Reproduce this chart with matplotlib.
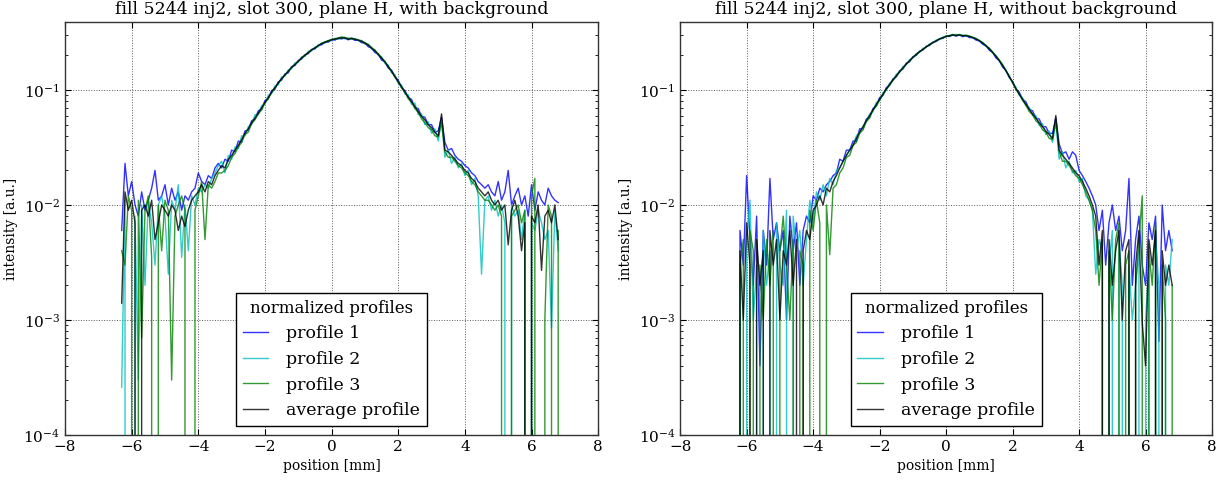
#!/usr/bin/env python3
"""
Normalized transverse profiles, fill 5244 inj2, slot 300, plane H.
Left: raw profiles (with background), right: background subtracted.
"""

import numpy as np
import matplotlib
matplotlib.use("Agg")
import matplotlib.pyplot as plt

# ---------- Data ----------
# position grid [mm], 0.1 mm steps from -6.3 to 6.8 (132 samples)
position = np.linspace(-6.3, 6.8, 132)

# intensities in units of 1e-3 [a.u.]; values <= 0 fall below the log axis
# ---- with background ----
prof1_bg = [6, 23, 12, 16, 10, 8, 13, 9, 11, 14,
            20, 11, 12, 15, 10, 14, 11, 13, 9, 12,
            11, 13, 14, 19, 16, 15, 18, 17, 21, 23,
            21, 25, 24, 30, 29, 36, 35, 44, 45, 54,
            56, 66, 68, 81, 84, 99, 102, 118, 122, 138,
            141, 160, 163, 181, 186, 203, 207, 225, 228, 245,
            247, 261, 261, 275, 272, 283, 278, 286, 273, 283,
            270, 272, 258, 256, 238, 231, 212, 205, 182, 176,
            155, 149, 131, 122, 105, 99, 86, 83, 70, 69,
            59, 58, 50, 50, 43, 44, 58, 35, 30, 31,
            27, 25, 24, 22, 21, 19, 18, 16, 15, 14,
            15, 13, 12, 16, 11, 13, 20, 10, 12, 14,
            10, 12, 8, 15, 9, 13, 11, 10, 14, 12,
            11, 10.5]
prof2_bg = [0.26, 11, 0, 0, 8, 0.3, 10, 2, 11, 7,
            3, 10, 12, 8, 2.5, 11, 9, 15, 3.5, 10,
            4, 12, 10, 14, 13, 15, 14, 17, 19, 22,
            24, 19, 27, 25, 32, 31, 40, 40, 48, 50,
            61, 61, 73, 76, 90, 93, 109, 111, 130, 132,
            150, 153, 172, 174, 195, 196, 217, 218, 237, 238,
            257, 256, 271, 268, 282, 276, 288, 278, 283, 276,
            281, 268, 270, 251, 251, 227, 225, 200, 195, 171,
            165, 141, 136, 114, 111, 92, 91, 75, 77, 61,
            62, 50, 53, 42, 46, 36, 55, 26, 30, 23,
            26, 21, 23, 18, 20, 15, 17, 12, 2.5, 11,
            12, 9, 11, 8, 10, 7, 0, 10, 8, 9,
            5, 9, 0, 7, 6, 9, 7, 5, 6, 0.85,
            9, 4]
prof3_bg = [4, 3, 12, 9, 0, 11, 0.7, 9, 12, 3.5,
            0, 10, 4, 11, 9, 0.3, 8, 10, 12, 9,
            0, 0, 9, 12, 16, 5, 15, 14, 16, 19,
            19, 20, 22, 26, 28, 32, 35, 41, 43, 51,
            55, 62, 67, 77, 84, 95, 103, 115, 125, 135,
            145, 157, 167, 178, 190, 202, 212, 225, 232, 245,
            254, 263, 268, 276, 278, 285, 289, 287, 280, 283,
            278, 274, 267, 259, 248, 235, 221, 207, 191, 178,
            160, 145, 129, 118, 104, 96, 84, 78, 69, 64,
            56, 52, 47, 45, 40, 39, 52, 29, 26, 26,
            24, 22, 21, 19, 18, 16, 15, 13, 12, 11,
            11, 10, 9, 10, 8, 0, 0, 8, 9, 10,
            7, 9, 0, 12, 17, 0, 0, 1, 10, 8,
            0, 6]
avg_bg = [1.4, 13, 9, 11, 7, 0, 9, 10, 8, 11,
          5, 7, 10, 9, 8, 10, 9, 6, 8, 6.5,
          9, 11, 12, 13, 15, 13, 16, 15, 18, 20,
          22, 21, 25, 27, 30, 33, 37, 42, 46, 52,
          57, 63, 70, 78, 86, 96, 105, 115, 126, 135,
          146, 157, 167, 178, 190, 200, 212, 223, 232, 243,
          253, 260, 267, 273, 277, 281, 284, 283, 277, 280,
          276, 271, 265, 255, 246, 231, 219, 204, 189, 175,
          160, 146, 131, 118, 107, 96, 87, 79, 72, 65,
          59, 55, 50, 47, 43, 40, 62, 30, 29, 27,
          25, 23, 22, 20, 19, 17, 16, 14, 13, 12,
          13, 11, 10, 11, 9, 10, 4.5, 9, 11, 8,
          4, 7, 0, 8, 7, 10, 2.7, 8, 9, 7,
          10, 5]

# ---- without background ----
prof1_nobg = [-2, 6, 3, 18, 5, 2, 8, 0.4, 6, 3,
              17, 5, 7, 4, 6, 1, 8, 4, 7, 2,
              6, 8, 7, 12, 11, 14, 13, 15, 16, 18,
              19, 25, 24, 30, 30, 36, 36, 46, 46, 56,
              58, 69, 73, 86, 90, 105, 110, 125, 130, 147,
              152, 171, 176, 195, 200, 218, 222, 240, 244, 261,
              264, 280, 281, 295, 292, 303, 294, 302, 291, 297,
              286, 285, 272, 267, 250, 242, 222, 212, 190, 180,
              158, 148, 128, 119, 102, 96, 83, 79, 68, 66,
              57, 56, 48, 48, 42, 42, 57, 34, 28, 29,
              25, 29, 27, 20, 18, 16, 14, 12, 10, 6,
              9, 3, 7, 10, 6, 8, 4, 6, 17, 2,
              5, 8, 3, 2, 7, 5, 8, 0.65, 10, 4,
              6, 4]
prof2_nobg = [-1, 2, 0, 5, 11, 1, 3, 0, 6, 2,
              4, 0, 7, 3, 2, 9, 0, 8, 4, 6,
              2, 5, 11, 7, 13, 11, 15, 12, 17, 15,
              20, 21, 24, 27, 30, 33, 40, 43, 48, 54,
              62, 65, 78, 81, 95, 100, 115, 120, 137, 142,
              160, 166, 184, 190, 208, 213, 230, 235, 252, 256,
              272, 275, 289, 290, 300, 298, 305, 299, 301, 295,
              296, 284, 282, 266, 260, 240, 232, 210, 200, 178,
              167, 145, 134, 114, 106, 90, 86, 73, 71, 60,
              60, 49, 51, 41, 44, 35, 52, 25, 29, 21,
              24, 19, 20, 16, 17, 12, 11, 9, 2.5, 5,
              4, 0, 3, 6, 0, 5, 2, 0, 3, 1,
              2, 4, 0, 1, 3, 0, 5, 2, 0, 3,
              2, 5]
prof3_nobg = [-1, 3, 5, 0, 6, 4, 0, 3, 1, 5,
              2, 6, 0, 4, 8, 3, 1, 5, 0, 4,
              3, 0, 9, 6, 11, 7, 0, 10, 3.7, 14,
              15, 19, 21, 26, 27, 33, 35, 42, 45, 53,
              57, 67, 72, 82, 90, 101, 110, 122, 131, 144,
              154, 168, 178, 192, 202, 215, 226, 237, 248, 259,
              268, 279, 285, 295, 296, 305, 299, 304, 297, 301,
              294, 289, 280, 271, 258, 245, 230, 215, 198, 183,
              165, 149, 131, 118, 101, 92, 81, 74, 65, 61,
              54, 51, 45, 43, 38, 37, 54, 29, 24, 24,
              22, 20, 18, 17, 15, 13, 11, 9, 6, 2,
              5, 0, 4, 1, 5, 7, 0, 3, 4, 0,
              2, 5, 12, 0, 4, 2, 7, 0, 3, 1,
              0, 2]
avg_nobg = [-1, 4, 1, 7, 3, 0, 5, 2, 4, 0,
            6, 3, 5, 1, 4, 3, 6, 2, 5, 0,
            4, 6, 5, 9, 10, 12, 10, 14, 13, 16,
            18, 21, 24, 27, 30, 33, 38, 43, 48, 54,
            60, 67, 75, 83, 92, 102, 112, 122, 133, 144,
            156, 168, 180, 192, 204, 215, 226, 237, 248, 258,
            268, 277, 285, 292, 296, 300, 298, 301, 296, 297,
            292, 286, 278, 268, 256, 242, 228, 212, 196, 180,
            163, 147, 131, 116, 103, 92, 83, 75, 68, 62,
            57, 52, 48, 44, 41, 38, 60, 30, 27, 25,
            23, 21, 19, 18, 16, 14, 12, 10, 8, 3,
            6, 0, 5, 2, 4, 6, 1, 4, 5, 0,
            3, 6, 0.95, 0.4, 5, 3, 6, 0, 4, 2,
            3, 2]

titles = ["fill 5244 inj2, slot 300, plane H, with background",
          "fill 5244 inj2, slot 300, plane H, without background"]
labels = ["profile 1", "profile 2", "profile 3", "average profile"]
colors = ["b", "c", "g", "k"]

panels = [[prof1_bg, prof2_bg, prof3_bg, avg_bg],
          [prof1_nobg, prof2_nobg, prof3_nobg, avg_nobg]]

# ---------- Style (old matplotlib look) ----------
plt.rcParams.update({
    "font.family": "serif",
    "font.serif": ["DejaVu Serif"],
    "mathtext.fontset": "dejavuserif",
    "xtick.direction": "in",
    "ytick.direction": "in",
    "xtick.top": True,
    "ytick.right": True,
    "xtick.major.size": 4,
    "ytick.major.size": 4,
    "ytick.minor.size": 2,
    "xtick.labelsize": 11,
    "ytick.labelsize": 11,
    "axes.linewidth": 1.0,
    "axes.edgecolor": "0.2",
})

fig = plt.figure(figsize=(12.2, 4.8), dpi=100)
rects = [[0.0533, 0.094, 0.437, 0.860],
         [0.5575, 0.094, 0.436, 0.860]]

for rect, title, series in zip(rects, titles, panels):
    ax = fig.add_axes(rect)
    for vals, lab, col in zip(series, labels, colors):
        ax.plot(position, np.array(vals) * 1e-3, color=col, lw=1.0,
                alpha=0.8, label=lab)
    ax.set_yscale("log", nonpositive="clip")
    ax.set_xlim(-8, 8)
    ax.set_ylim(1e-4, 0.39)
    ax.set_xticks(np.arange(-8, 9, 2))
    ax.grid(True, which="major", color="0.35", linestyle=":", linewidth=0.7)
    ax.set_title(title, fontsize=12.5)
    ax.set_xlabel("position [mm]", fontsize=10)
    ax.set_ylabel("intensity [a.u.]", fontsize=10)
    leg = ax.legend(loc="lower center", title="normalized profiles",
                    fontsize=12.5, title_fontsize=12, fancybox=False,
                    framealpha=1, edgecolor="k", borderaxespad=0.5,
                    handlelength=1.45, handletextpad=1.05)
    leg.get_frame().set_linewidth(1.0)

fig.savefig("out.png", dpi=100, facecolor="white")
